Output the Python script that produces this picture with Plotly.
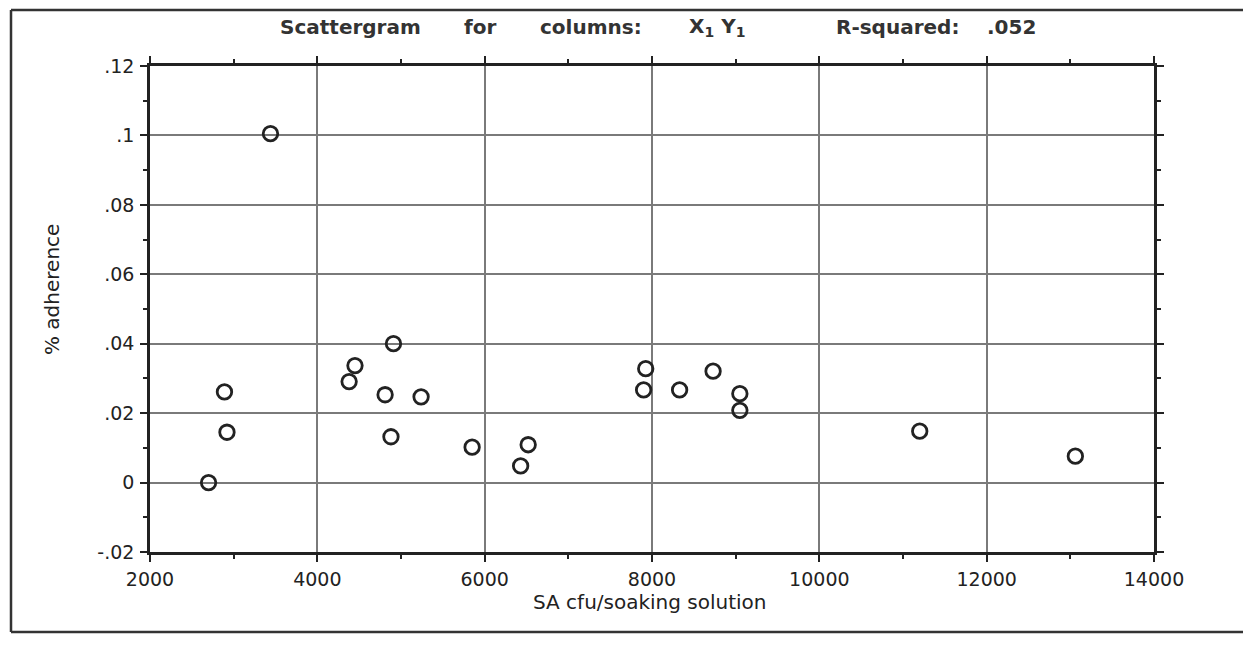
import plotly.graph_objects as go

# Data
sa_cfu = [3440, 2890, 2920, 2700, 4450, 4380, 4810, 4880, 4910, 5240, 5850,
          6520, 6430, 7925, 7900, 8330, 8730, 9050, 9050, 11200, 13060]
adherence = [0.1005, 0.0261, 0.0145, 0.0000, 0.0337, 0.0291, 0.0253, 0.0132,
             0.0400, 0.0247, 0.0102, 0.0109, 0.0048, 0.0328, 0.0267, 0.0267,
             0.0321, 0.0256, 0.0208, 0.0148, 0.0076]

y_tickvals = [-0.02, 0, 0.02, 0.04, 0.06, 0.08, 0.10, 0.12]
y_ticktext = ["-.02", "0", ".02", ".04", ".06", ".08", ".1", ".12"]
x_tickvals = [2000, 4000, 6000, 8000, 10000, 12000, 14000]

title_words = ["Scattergram", "for", "columns:", "X<sub>1</sub> Y<sub>1</sub>",
               "R-squared:", ".052"]
title_centers_px = [350, 480, 591, 717, 897, 1011]

# page is drawn with an 8px body margin: work in page pixels, convert
OFF = 8
W, H = 1251 - OFF, 647 - 2 * OFF
PL, PR, PT, PB = 150, 1154, 66, 552          # plot area in page pixels
L, T = PL - OFF, PT - OFF
R = W - (PR - OFF)
B = H - (PB - OFF)
PW, PH = PR - PL, PB - PT


def xp(px):
    return (px - PL) / PW


def yp(py):
    return (PB - py) / PH


ink = "#222222"
grid = "#7a7a7a"
tickfont = dict(family="DejaVu Sans", size=19, color=ink)

fig = go.Figure()
fig.add_trace(go.Scatter(
    x=sa_cfu, y=adherence, mode="markers",
    marker=dict(symbol="circle-open", size=14.5, color=ink,
                line=dict(width=2.8, color=ink)),
    showlegend=False, hoverinfo="x+y",
))

axis_common = dict(
    showline=True, linecolor=ink, linewidth=2.5, mirror="allticks",
    ticks="outside", ticklen=7, tickwidth=2, tickcolor=ink,
    showgrid=True, gridcolor=grid, gridwidth=2, griddash="solid",
    zeroline=False, tickfont=tickfont,
)

fig.update_xaxes(
    range=[2000, 14000], tickmode="array", tickvals=x_tickvals,
    ticktext=[str(v) for v in x_tickvals], ticklabelstandoff=1,
    minor=dict(tickmode="linear", tick0=0, dtick=1000, ticks="outside",
               ticklen=4, tickwidth=1.5, tickcolor=ink, showgrid=False),
    **axis_common,
)
fig.update_yaxes(
    range=[-0.02, 0.12], tickmode="array", tickvals=y_tickvals,
    ticktext=y_ticktext, ticklabelstandoff=2,
    minor=dict(tickmode="linear", tick0=0, dtick=0.01, ticks="outside",
               ticklen=4, tickwidth=1.5, tickcolor=ink, showgrid=False),
    **axis_common,
)

annotations = []
for word, cx in zip(title_words, title_centers_px):
    annotations.append(dict(
        text=word, x=xp(cx), y=yp(27), xref="paper", yref="paper",
        xanchor="center", yanchor="middle", showarrow=False,
        font=dict(family="DejaVu Sans", size=20, color="#333333", weight="bold"),
    ))
annotations.append(dict(
    text="SA cfu/soaking solution", x=xp(650), y=yp(602), xref="paper",
    yref="paper", xanchor="center", yanchor="middle", showarrow=False,
    font=dict(family="DejaVu Sans", size=20, color=ink),
))
annotations.append(dict(
    text="% adherence", x=xp(52), y=yp(290), xref="paper", yref="paper",
    xanchor="center", yanchor="middle", showarrow=False, textangle=-90,
    font=dict(family="DejaVu Sans", size=20, color=ink),
))

frame = dict(color="#333333", width=2.5)
fig.update_layout(
    width=W, height=H, autosize=False,
    margin=dict(l=L, r=R, t=T, b=B, pad=0),
    paper_bgcolor="white", plot_bgcolor="white",
    annotations=annotations,
    shapes=[
        dict(type="line", xref="paper", yref="paper", x0=xp(11), x1=xp(11),
             y0=yp(632), y1=yp(10), line=frame, layer="below"),
        dict(type="line", xref="paper", yref="paper", x0=xp(11), x1=xp(1265),
             y0=yp(10), y1=yp(10), line=frame, layer="below"),
        dict(type="line", xref="paper", yref="paper", x0=xp(11), x1=xp(1265),
             y0=yp(632), y1=yp(632), line=frame, layer="below"),
    ],
)

fig.write_html("out.html")
